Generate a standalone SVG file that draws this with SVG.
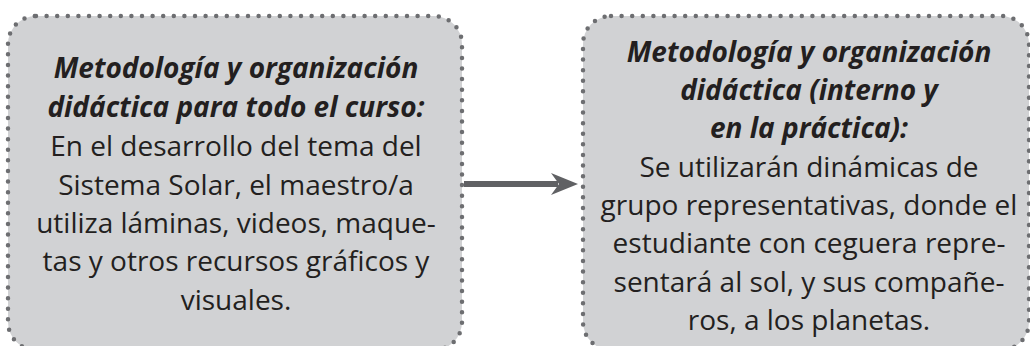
<svg xmlns="http://www.w3.org/2000/svg" width="1030" height="346" viewBox="0 0 1030 346">
<style>
.box{fill:#d1d2d4;stroke:#6d6e71;stroke-width:4.5;stroke-linecap:round;stroke-dasharray:0 10.6}
text{font-family:"Open Sans","Noto Sans",sans-serif;fill:#231f20;text-anchor:middle;font-size:28px}
.h{font-weight:bold;font-style:italic}
.conn{stroke:#606164;stroke-width:6;fill:none}
</style>
<rect width="1030" height="346" fill="#ffffff"/>
<g id="node-left">
<rect class="box" x="8" y="16" width="454" height="334" rx="28"/>
<text class="h" x="236" y="78">Metodología y organización</text>
<text class="h" x="236" y="117">didáctica para todo el curso:</text>
<text x="236" y="156">En el desarrollo del tema del</text>
<text x="236" y="195">Sistema Solar, el maestro/a</text>
<text x="236" y="233">utiliza láminas, videos, maque-</text>
<text x="236" y="271">tas y otros recursos gráficos y</text>
<text x="236" y="310">visuales.</text>
</g>
<g id="node-right">
<rect class="box" x="583" y="16" width="446" height="334" rx="28"/>
<text class="h" x="809" y="62">Metodología y organización</text>
<text class="h" x="809" y="100">didáctica (interno y</text>
<text class="h" x="809" y="138">en la práctica):</text>
<text x="809" y="177">Se utilizarán dinámicas de</text>
<text x="809" y="215">grupo representativas, donde el</text>
<text x="809" y="253">estudiante con ceguera repre-</text>
<text x="809" y="292">sentará al sol, y sus compañe-</text>
<text x="809" y="330">ros, a los planetas.</text>
</g>
<g id="connectors">
<line class="conn" x1="464" y1="184" x2="558" y2="184"/>
<path d="M578,184 L551,173 L559,184 L551,195 Z" fill="#606164"/>
</g>
</svg>
